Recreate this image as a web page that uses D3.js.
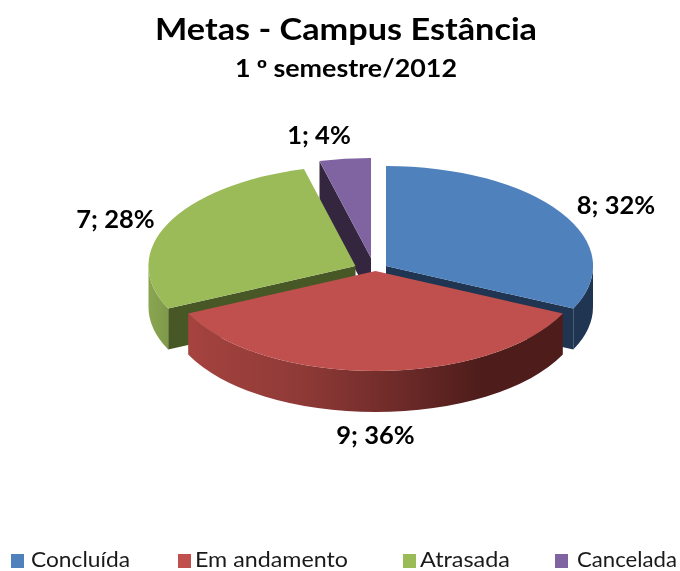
<!DOCTYPE html>
<html><head><meta charset="utf-8">
<script src="https://cdnjs.cloudflare.com/ajax/libs/d3/7.8.5/d3.min.js"></script>
<style>html,body{margin:0;padding:0;background:#fff}svg{display:block;filter:blur(0.45px)}</style>
</head><body><svg id="c" width="680" height="571"></svg>
<script>
const categories = ["Concluída","Em andamento","Atrasada","Cancelada"];
const values = [8,9,7,1];
const dataLabels = ["8; 32%","9; 36%","7; 28%","1; 4%"];
const topColors = ["#4f81bd","#c0504d","#9bbb59","#8064a2"];
const edgeColors = ["#1f3552","#4e1d1b","#485726","#35263f"];
const wallColors = ["#1f3552","url(#redWall)","url(#greenWall)","#35263f"];

const W=680,H=571,cx=375.5,cy=269,rx=207,ry=100,depth=41;
const explode=[[10.5,-3],[0,2],[-20,-3],[-4.5,-11]];
const labelPos=[[616,214],[375.5,444],[115.5,228],[319,144]];
const legendX=[11,178,403,555], legendTextX=[31,195,420,577], legendTextW=[99,153,90,100];

const svg=d3.select("#c").attr("viewBox",[0,0,W,H]);
const defs=svg.append("defs");
function grad(id,stops){
  const g=defs.append("linearGradient").attr("id",id).attr("x1","0%").attr("x2","100%").attr("y1","0%").attr("y2","0%");
  stops.forEach(([o,c])=>g.append("stop").attr("offset",o).attr("stop-color",c));
}
grad("redWall",[[0,"#a5433f"],[.3,"#8f3a37"],[.55,"#6f2b29"],[.78,"#4e1d1b"],[1,"#4e1d1b"]]);
grad("greenWall",[[0,"#8aa651"],[1,"#7f994a"]]);

const pie=d3.pie().sort(null).startAngle(0).endAngle(2*Math.PI);
const arcs=pie(values);
const color=d3.scaleOrdinal().domain(categories).range(topColors);
const unitArc=d3.arc().innerRadius(0).outerRadius(1);
const px=a=>rx*Math.sin(a), py=a=>-ry*Math.cos(a);

const order=d3.range(arcs.length).sort((a,b)=>
  d3.descending(Math.cos((arcs[a].startAngle+arcs[a].endAngle)/2),Math.cos((arcs[b].startAngle+arcs[b].endAngle)/2)));

const EPS=1e-6;
function edgePath(a){
  const p=d3.path();
  p.moveTo(0,0);p.lineTo(px(a),py(a));p.lineTo(px(a),py(a)+depth);p.lineTo(0,depth);p.closePath();
  return p.toString();
}
function wallPath(a0,a1){
  const s=`M${px(a0)},${py(a0)}A${rx},${ry} 0 0 1 ${px(a1)},${py(a1)}`;
  return s+`L${px(a1)},${py(a1)+depth}A${rx},${ry} 0 0 0 ${px(a0)},${py(a0)+depth}Z`;
}
order.forEach(i=>{
  const d=arcs[i];
  const g=svg.append("g").attr("transform",`translate(${cx+explode[i][0]},${cy+explode[i][1]})`);
  if(Math.sin(d.startAngle)<-EPS) g.append("path").attr("d",edgePath(d.startAngle)).attr("fill",edgeColors[i]);
  if(Math.sin(d.endAngle)>EPS) g.append("path").attr("d",edgePath(d.endAngle)).attr("fill",edgeColors[i]);
  const w0=Math.max(d.startAngle,Math.PI/2), w1=Math.min(d.endAngle,3*Math.PI/2);
  if(w1>w0) g.append("path").attr("d",wallPath(w0,w1)).attr("fill",wallColors[i]);
  g.append("g").attr("transform",`scale(${rx},${ry})`)
    .append("path").attr("d",unitArc(d)).attr("fill",color(categories[i]));
});

const font="Lato, Carlito, sans-serif";
svg.append("text").attr("x",155).attr("y",39.5).attr("textLength",382).attr("lengthAdjust","spacingAndGlyphs")
  .attr("font-family",font).attr("font-weight",700).attr("font-size",31).attr("fill","#000").text("Metas - Campus Estância");
const sub=svg.append("text").attr("x",235).attr("y",76.5).attr("textLength",222).attr("lengthAdjust","spacingAndGlyphs")
  .attr("font-family",font).attr("font-weight",700).attr("font-size",24).attr("fill","#000");
sub.append("tspan").text("1 ");
sub.append("tspan").attr("font-family","Liberation Sans").text("º");
sub.append("tspan").text(" semestre/2012");

svg.selectAll(".dl").data(dataLabels).join("text").attr("class","dl")
  .attr("x",(d,i)=>labelPos[i][0]).attr("y",(d,i)=>labelPos[i][1]).attr("text-anchor","middle")
  .attr("font-family",font).attr("font-weight",700).attr("font-size",25.5).attr("fill","#000").text(d=>d);

const lg=svg.selectAll(".lg").data(categories).join("g").attr("class","lg");
lg.append("rect").attr("x",(d,i)=>legendX[i]).attr("y",554).attr("width",13).attr("height",14).attr("fill",d=>color(d));
lg.append("text").attr("x",(d,i)=>legendTextX[i]).attr("y",566.5)
  .attr("textLength",(d,i)=>legendTextW[i]).attr("lengthAdjust","spacingAndGlyphs")
  .attr("font-family",font).attr("font-size",22).attr("fill","#1a1a1a").text(d=>d);
</script></body></html>
